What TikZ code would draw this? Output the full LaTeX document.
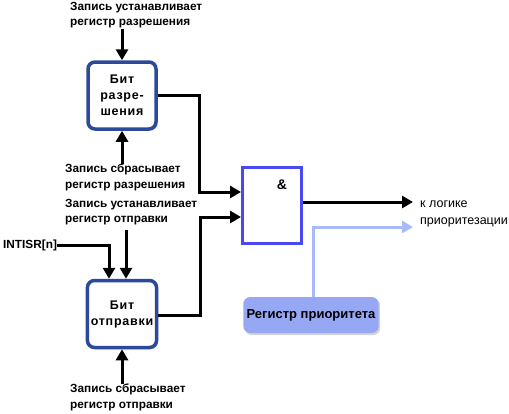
\documentclass[tikz,border=0pt]{standalone}
\usepackage{fontspec}
\setmainfont{Liberation Sans}
\usetikzlibrary{arrows.meta,shadows}
\definecolor{bitblue}{HTML}{2B4A9A}
\definecolor{gateblue}{HTML}{4A48F0}
\definecolor{lightline}{HTML}{A8BAF8}
\definecolor{regfill}{HTML}{96A8F4}
\begin{document}
\begin{tikzpicture}[x=1pt,y=-1pt,
  bitbox/.style={draw=bitblue, line width=3.5pt, fill=white, rounded corners=7pt,
    minimum width=68pt, minimum height=67pt, align=center,
    font=\bfseries\fontsize{12.5}{16}\selectfont\addfontfeature{LetterSpace=6},
    drop shadow={opacity=0.35, shadow xshift=1.5pt, shadow yshift=-1.5pt}},
  gatebox/.style={draw=gateblue, line width=3pt, fill=white, minimum width=59pt, minimum height=76pt},
  regbox/.style={fill=regfill, rounded corners=7pt, minimum width=132pt, minimum height=36pt,
    font=\bfseries\fontsize{13}{15}\selectfont,
    drop shadow={opacity=0.35, shadow xshift=1.5pt, shadow yshift=-2pt}},
  lbl/.style={font=\bfseries\fontsize{11.8}{15.5}\selectfont, align=left, inner sep=0pt, anchor=north west},
  outlbl/.style={font=\fontsize{12.5}{17}\selectfont, align=left, inner sep=0pt, anchor=west},
  arr/.style={line width=3pt, -{Triangle[length=11pt,width=12pt]}},
  lbarr/.style={draw=lightline, line width=3pt, -{Triangle[length=11pt,width=12pt]}}]
\useasboundingbox (0,0) rectangle (509,413);
% boxes
\node[bitbox] (b1) at (122,95.5) {Бит\\разре-\\шения};
\node[bitbox] (b2) at (122,314) {Бит\\отправки};
\node[gatebox] (gate) at (272,205.5) {};
\node[font=\bfseries\fontsize{14}{16}\selectfont, inner sep=0pt] (amp) at (282,185) {\&};
\node[regbox] (reg) at (311,315) {Регистр приоритета};
% labels
\node[lbl] (l1) at (70,2) {Запись устанавливает\\регистр разрешения};
\node[lbl] (l2) at (65,164) {Запись сбрасывает\\регистр разрешения};
\node[lbl] (l3) at (65,199) {Запись устанавливает\\регистр отправки};
\node[lbl] (l4) at (70,384) {Запись сбрасывает\\регистр отправки};
\node[font=\bfseries\fontsize{11.8}{13}\selectfont, inner sep=0pt, anchor=west] (intisr) at (3,245) {INTISR[n]};
\node[outlbl] (outl) at (420,213.5) {к логике\\приоритезации};
\coordinate (o1) at (413,202);
\coordinate (o2) at (413,227);
% connectors
\draw[arr] (b1.north |- 0,29) -- (b1.north);
\draw[arr] (b1.south |- l2.north) -- (b1.south);
\draw[arr] (intisr.east) -| ([xshift=-13pt]b2.north);
\draw[arr] ([xshift=4pt]b2.north |- 0,230) -- ([xshift=4pt]b2.north);
\draw[arr] (b2.south |- l4.north) -- (b2.south);
\draw[arr] (b1.east) -- ++(42,0) |- ([yshift=13.5pt]gate.west);
\draw[arr] ([yshift=-1pt]b2.east) -- ++(42,0) |- ([yshift=-11.5pt]gate.west);
\draw[arr] (gate.east |- o1) -- (o1);
\draw[lbarr] ([xshift=2pt]reg.north) |- (o2);
\end{tikzpicture}
\end{document}
